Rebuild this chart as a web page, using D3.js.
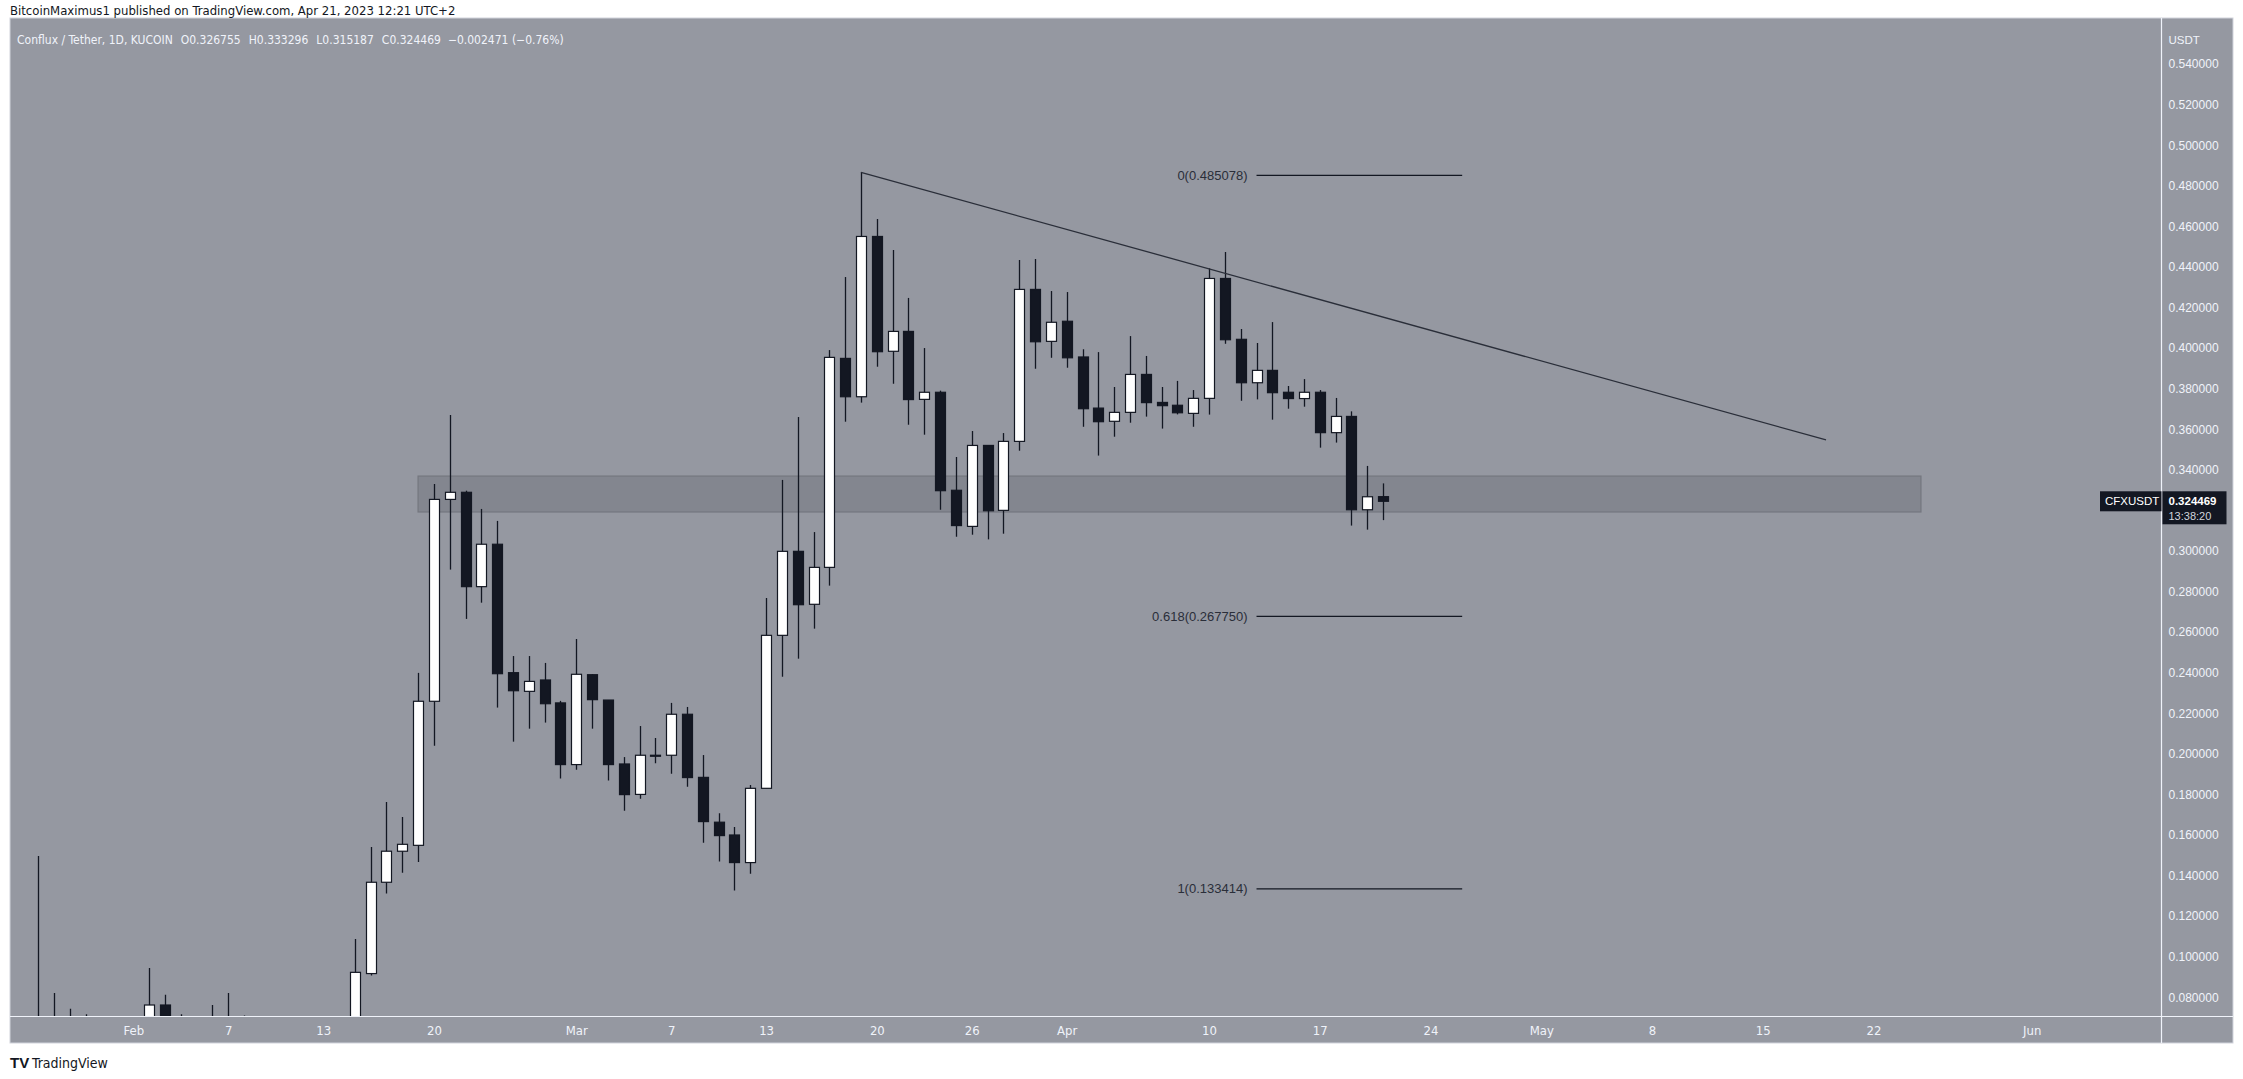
<!DOCTYPE html>
<html><head><meta charset="utf-8">
<script src="https://cdn.jsdelivr.net/npm/d3@7"></script>
<style>
html,body{margin:0;padding:0;background:#fff;}
svg{display:block;}
</style></head>
<body>
<svg id="chart" width="2243" height="1079"></svg>
<script>
// ---------------- data ----------------
const dates = ["2023-01-26","2023-01-27","2023-01-28","2023-01-29","2023-01-30","2023-01-31","2023-02-01","2023-02-02","2023-02-03","2023-02-04","2023-02-05","2023-02-06","2023-02-07","2023-02-08","2023-02-09","2023-02-10","2023-02-11","2023-02-12","2023-02-13","2023-02-14","2023-02-15","2023-02-16","2023-02-17","2023-02-18","2023-02-19","2023-02-20","2023-02-21","2023-02-22","2023-02-23","2023-02-24","2023-02-25","2023-02-26","2023-02-27","2023-02-28","2023-03-01","2023-03-02","2023-03-03","2023-03-04","2023-03-05","2023-03-06","2023-03-07","2023-03-08","2023-03-09","2023-03-10","2023-03-11","2023-03-12","2023-03-13","2023-03-14","2023-03-15","2023-03-16","2023-03-17","2023-03-18","2023-03-19","2023-03-20","2023-03-21","2023-03-22","2023-03-23","2023-03-24","2023-03-25","2023-03-26","2023-03-27","2023-03-28","2023-03-29","2023-03-30","2023-03-31","2023-04-01","2023-04-02","2023-04-03","2023-04-04","2023-04-05","2023-04-06","2023-04-07","2023-04-08","2023-04-09","2023-04-10","2023-04-11","2023-04-12","2023-04-13","2023-04-14","2023-04-15","2023-04-16","2023-04-17","2023-04-18","2023-04-19","2023-04-20","2023-04-21"];
const open  = [0.045,0.046,0.047,0.048,0.050,0.052,0.055,0.060,0.0762,0.067,0.065,0.064,0.066,0.067,0.064,0.060,0.059,0.062,0.064,0.063,0.066,0.0917,0.1367,0.152,0.1549,0.2259,0.3254,0.3289,0.2824,0.3033,0.2400,0.2308,0.2364,0.2251,0.1947,0.2390,0.2265,0.1950,0.1800,0.1993,0.1993,0.2195,0.1884,0.1663,0.1600,0.1464,0.1830,0.2584,0.2998,0.2737,0.2919,0.3949,0.3760,0.4550,0.3984,0.4082,0.3747,0.3782,0.3299,0.3121,0.3520,0.3200,0.3540,0.4289,0.4033,0.4132,0.3956,0.3704,0.3639,0.3683,0.3870,0.3732,0.3718,0.3678,0.3752,0.4343,0.4043,0.3829,0.3890,0.3782,0.3751,0.3782,0.3583,0.3663,0.3203,0.326755];
const high  = [0.1497,0.0821,0.0743,0.0716,0.0690,0.0680,0.0700,0.0945,0.0812,0.0716,0.0700,0.0762,0.0821,0.0710,0.0680,0.0650,0.0640,0.0680,0.0690,0.0700,0.1087,0.1541,0.1763,0.1689,0.2399,0.3330,0.3670,0.3297,0.3207,0.3148,0.2482,0.2482,0.2448,0.2261,0.2566,0.2392,0.2265,0.1984,0.2137,0.2078,0.2251,0.2231,0.1994,0.1707,0.1639,0.1846,0.2768,0.3350,0.3660,0.3093,0.3990,0.4350,0.4868,0.4636,0.4483,0.4247,0.4000,0.3790,0.3463,0.3591,0.3520,0.3581,0.4434,0.4439,0.4281,0.4276,0.3994,0.3980,0.3808,0.4059,0.3961,0.3808,0.3838,0.3793,0.4393,0.4473,0.4094,0.4025,0.4128,0.3813,0.3847,0.3793,0.3754,0.3688,0.3419,0.333296];
const low   = [0.040,0.043,0.044,0.045,0.046,0.049,0.052,0.058,0.064,0.062,0.061,0.061,0.063,0.062,0.058,0.057,0.057,0.060,0.060,0.061,0.064,0.0907,0.1311,0.1414,0.1467,0.2040,0.2908,0.2665,0.2745,0.2228,0.2060,0.2124,0.2154,0.1878,0.1922,0.2124,0.1868,0.1720,0.1779,0.1953,0.1902,0.1838,0.1562,0.1469,0.1326,0.1409,0.1830,0.2380,0.2469,0.2617,0.2829,0.3637,0.3731,0.3908,0.3824,0.3622,0.3573,0.3203,0.3070,0.3080,0.3057,0.3085,0.3494,0.3898,0.3952,0.3903,0.3612,0.3470,0.3563,0.3632,0.3662,0.3603,0.3673,0.3612,0.3672,0.4021,0.3740,0.3747,0.3647,0.3701,0.3711,0.3509,0.3534,0.3125,0.3105,0.315187];
const close = [0.046,0.047,0.048,0.050,0.052,0.055,0.060,0.0762,0.067,0.065,0.064,0.066,0.067,0.064,0.060,0.059,0.062,0.064,0.063,0.066,0.0923,0.1367,0.1520,0.1554,0.2259,0.3254,0.3289,0.2824,0.3033,0.2395,0.2311,0.2357,0.2247,0.1947,0.2392,0.2267,0.1947,0.1799,0.1993,0.1990,0.2195,0.1883,0.1666,0.1597,0.1464,0.1830,0.2584,0.2998,0.2735,0.2919,0.3954,0.3760,0.4550,0.3982,0.4082,0.3746,0.3782,0.3297,0.3125,0.3520,0.3198,0.3540,0.4289,0.4031,0.4127,0.3952,0.3701,0.3637,0.3683,0.3870,0.3731,0.3716,0.3681,0.3752,0.4343,0.4041,0.3829,0.3890,0.3780,0.3751,0.3782,0.3583,0.3663,0.3203,0.3267,0.324469];

// 0.32 is hidden behind the last-price label in the reference, so it is not listed
const priceTicks = [0.08,0.10,0.12,0.14,0.16,0.18,0.20,0.22,0.24,0.26,0.28,0.30,0.34,0.36,0.38,0.40,0.42,0.44,0.46,0.48,0.50,0.52,0.54];
const timeTicks = ["2023-02-01","2023-02-07","2023-02-13","2023-02-20","2023-03-01","2023-03-07","2023-03-13","2023-03-20","2023-03-26","2023-04-01","2023-04-10","2023-04-17","2023-04-24","2023-05-01","2023-05-08","2023-05-15","2023-05-22","2023-06-01"];
const timeTickLabels = ["Feb","7","13","20","Mar","7","13","20","26","Apr","10","17","24","May","8","15","22","Jun"];

const zone = {from:"2023-02-19", to:"2023-05-25", top:0.3369, bottom:0.3192};
const trendDates = ["2023-03-19","2023-05-19"];
const trendPrices = [0.4866, 0.3547];
const fibLevels = ["0","0.618","1"];
const fibPrices = [0.485078, 0.267750, 0.133414];
const fibDates = ["2023-04-13","2023-04-26"];

const headerText = "BitcoinMaximus1 published on TradingView.com, Apr 21, 2023 12:21 UTC+2";
const legendTitle = "Conflux / Tether, 1D, KUCOIN";
const legendO = "0.326755", legendH = "0.333296", legendL = "0.315187", legendC = "0.324469";
const legendChg = "\u22120.002471 (\u22120.76%)";
const lastPrice = 0.324469;
const symbolName = "CFXUSDT";
const countdown = "13:38:20";

// ---------------- layout ----------------
const parse = d3.utcParse("%Y-%m-%d");
const W = 2243, H = 1079;
const plot = {left:10, top:18, right:2161.5, bottom:1016.5};
const axisBottomEnd = 1043;
const chartRight = 2233;

const x = d3.scaleUtc().domain([parse("2023-02-01"), parse("2023-06-01")]).range([133.3, 2031.7]);
const y = d3.scaleLinear().domain([0.08, 0.54]).range([997.3, 64]);

const BG = "#9598a1", DARK = "#131722", LIGHT = "#f0f3fa";
const svg = d3.select("#chart");

svg.append("rect").attr("width",W).attr("height",H).attr("fill","#ffffff");
// chart panel
svg.append("rect").attr("x",plot.left).attr("y",plot.top)
  .attr("width",chartRight-plot.left).attr("height",axisBottomEnd-plot.top)
  .attr("fill",BG).attr("stroke","#d1d4dc").attr("stroke-width",1);

const defs = svg.append("defs");
defs.append("clipPath").attr("id","plotclip").append("rect")
  .attr("x",plot.left).attr("y",plot.top)
  .attr("width",plot.right-plot.left).attr("height",plot.bottom-plot.top);

const g = svg.append("g").attr("clip-path","url(#plotclip)");

// zone
g.append("rect")
  .attr("x", x(parse(zone.from))).attr("y", y(zone.top))
  .attr("width", x(parse(zone.to)) - x(parse(zone.from)))
  .attr("height", y(zone.bottom) - y(zone.top))
  .attr("fill","#83868f").attr("stroke","#74777f").attr("stroke-width",1.2);

// candles
const candles = dates.map((d,i)=>({date:parse(d), o:open[i], h:high[i], l:low[i], c:close[i]}));
const bw = 10;
const cg = g.append("g");
cg.selectAll("line.wick").data(candles).enter().append("line")
  .attr("x1",d=>Math.round(x(d.date))+0.5).attr("x2",d=>Math.round(x(d.date))+0.5)
  .attr("y1",d=>y(d.h)).attr("y2",d=>y(d.l))
  .attr("stroke",DARK).attr("stroke-width",1.3);
cg.selectAll("rect.body").data(candles).enter().append("rect")
  .attr("x",d=>Math.round(x(d.date))+0.5-bw/2)
  .attr("y",d=>y(Math.max(d.o,d.c)))
  .attr("width",bw)
  .attr("height",d=>Math.max(1, Math.abs(y(d.o)-y(d.c))))
  .attr("fill",d=>d.c>=d.o?"#ffffff":DARK)
  .attr("stroke",DARK).attr("stroke-width",1.2);

// trend line
g.append("line")
  .attr("x1",x(parse(trendDates[0]))).attr("y1",y(trendPrices[0]))
  .attr("x2",x(parse(trendDates[1]))).attr("y2",y(trendPrices[1]))
  .attr("stroke","#2a2e39").attr("stroke-width",1.3);

// fib levels
fibLevels.forEach((lv,i)=>{
  const yy = y(fibPrices[i]);
  g.append("line").attr("x1",x(parse(fibDates[0]))).attr("x2",x(parse(fibDates[1])))
    .attr("y1",yy).attr("y2",yy).attr("stroke",DARK).attr("stroke-width",1.3);
  g.append("text").attr("x",x(parse(fibDates[0]))-9).attr("y",yy)
    .attr("dy","0.35em").attr("text-anchor","end")
    .attr("font-family","'Liberation Sans', Arial, sans-serif").attr("font-size",13)
    .attr("fill","#2a2e39")
    .text(lv + "(" + fibPrices[i].toFixed(6) + ")");
});

// separators
svg.append("line").attr("x1",plot.right).attr("x2",plot.right).attr("y1",plot.top).attr("y2",axisBottomEnd)
  .attr("stroke",LIGHT).attr("stroke-width",1.2);
svg.append("line").attr("x1",plot.left).attr("x2",chartRight).attr("y1",plot.bottom).attr("y2",plot.bottom)
  .attr("stroke",LIGHT).attr("stroke-width",1.2);

// price axis
const ya = d3.axisRight(y).tickValues(priceTicks).tickFormat(d3.format(".6f")).tickSize(0).tickPadding(0);
const yag = svg.append("g").attr("transform",`translate(${plot.right+7},0)`).call(ya);
yag.select(".domain").remove();
yag.selectAll("text").attr("fill",LIGHT).attr("font-family","'Liberation Sans', Arial, sans-serif").attr("font-size",12);
svg.append("text").attr("x",plot.right+7).attr("y",40).attr("dy","0.35em")
  .attr("fill",LIGHT).attr("font-family","'Liberation Sans', Arial, sans-serif").attr("font-size",11.5).text("USDT");

// time axis
const xa = d3.axisBottom(x).tickValues(timeTicks.map(parse))
  .tickFormat((d,i)=>timeTickLabels[i]).tickSize(0).tickPadding(0);
const xag = svg.append("g").attr("transform",`translate(0,${plot.bottom})`).call(xa);
xag.select(".domain").remove();
xag.selectAll("text").attr("fill",LIGHT)
  .attr("font-family","'Liberation Sans Narrow','DejaVu Sans Condensed','Liberation Sans',sans-serif")
  .attr("font-size",13).attr("dy",null).attr("y",18);

// last price labels
const yp = y(lastPrice);
svg.append("rect").attr("x",2100).attr("y",yp-10).attr("width",plot.right-2100).attr("height",20).attr("fill",DARK);
svg.append("text").attr("x",2105).attr("y",yp).attr("dy","0.35em").attr("fill","#ffffff")
  .attr("font-family","'Liberation Sans', Arial, sans-serif").attr("font-size",11.5).text(symbolName);
svg.append("rect").attr("x",plot.right+1).attr("y",yp-10).attr("width",64).attr("height",33).attr("fill",DARK);
svg.append("text").attr("x",plot.right+7).attr("y",yp-0.5).attr("dy","0.35em").attr("fill","#ffffff")
  .attr("font-family","'Liberation Sans', Arial, sans-serif").attr("font-size",11.5).attr("font-weight","bold").text(lastPrice.toFixed(6));
svg.append("text").attr("x",plot.right+7).attr("y",yp+14.5).attr("dy","0.35em").attr("fill","#d1d4dc")
  .attr("font-family","'Liberation Sans', Arial, sans-serif").attr("font-size",11).text(countdown);

// header and legend
svg.append("text").attr("x",10).attr("y",10).attr("dy","0.35em").attr("fill",DARK)
  .attr("font-family","'Liberation Sans Narrow','DejaVu Sans Condensed','Liberation Sans',sans-serif").attr("font-size",13)
  .text(headerText);
const leg = svg.append("text").attr("x",17).attr("y",40).attr("dy","0.35em").attr("fill",LIGHT)
  .attr("font-family","'Liberation Sans Narrow','DejaVu Sans Condensed','Liberation Sans',sans-serif").attr("font-size",12);
leg.append("tspan").text(legendTitle);
[["O",legendO],["H",legendH],["L",legendL],["C",legendC]].forEach(([k,v])=>{
  leg.append("tspan").attr("dx",8).text(k);
  leg.append("tspan").text(v);
});
leg.append("tspan").attr("dx",7).text(legendChg);

// TradingView logo
svg.append("text").attr("x",10).attr("y",1063).attr("dy","0.35em").attr("fill",DARK)
  .attr("font-family","'Liberation Sans', Arial, sans-serif").attr("font-size",15).attr("font-weight","bold").text("TV");
svg.append("text").attr("x",32).attr("y",1063).attr("dy","0.35em").attr("fill",DARK)
  .attr("font-family","'Liberation Sans Narrow','DejaVu Sans Condensed','Liberation Sans',sans-serif").attr("font-size",14).text("TradingView");
</script>
</body></html>
